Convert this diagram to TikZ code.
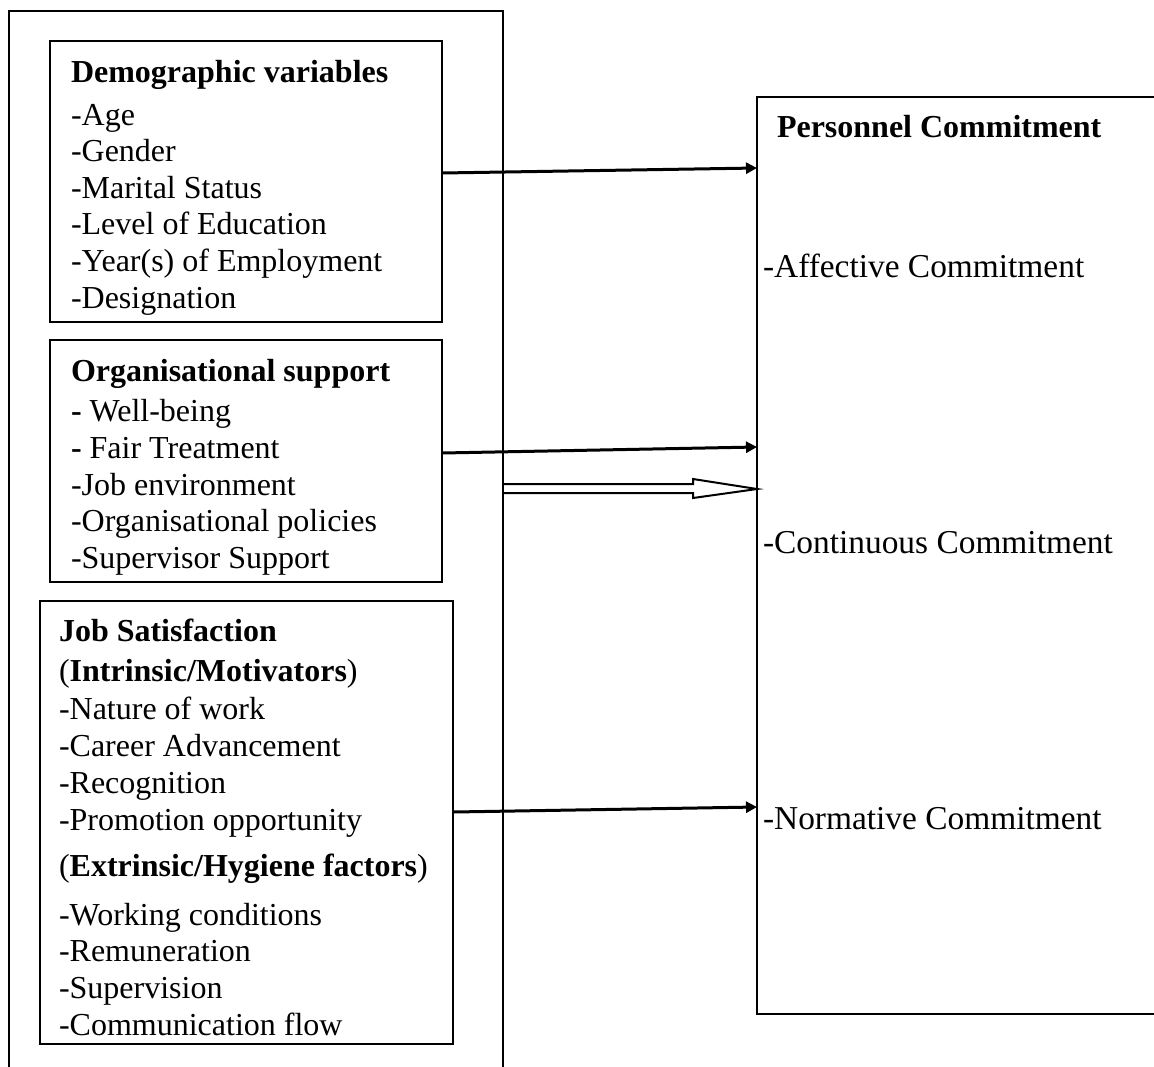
\documentclass[tikz,border=0pt]{standalone}
\usepackage{fontspec}
\setmainfont{Liberation Serif}
\usetikzlibrary{arrows.meta,calc}
\newcommand\figfs{\fontsize{16pt}{18.35pt}\selectfont}
\newcommand\figfsr{\fontsize{16.7pt}{19pt}\selectfont}
\begin{document}
\begin{tikzpicture}[x=0.5pt,y=-0.5pt,
  box/.style={draw,line width=1pt,inner sep=0pt,outer sep=0pt,anchor=north west},
  txt/.style={inner sep=0pt,outer sep=0pt,anchor=base west,font=\figfs},
  rtxt/.style={inner sep=0pt,outer sep=0pt,anchor=base west,font=\figfsr},
  hd/.style={inner sep=0pt,outer sep=0pt,anchor=base west,font=\figfs\bfseries},
  arr/.style={line width=1.5pt,-{Triangle[length=5.5pt,width=5.5pt]}},
  hollow/.style={line width=1pt,line join=miter}]
\useasboundingbox (0,0) rectangle (1154,1066);
\fill[white] (0,0) rectangle (1154,1066);

% boxes
\node[box,minimum width=247pt,minimum height=534.5pt] (outer) at (9,11) {};
\node[box,minimum width=196pt,minimum height=140.5pt] (demo) at (50,41) {};
\node[box,minimum width=196pt,minimum height=121pt] (org) at (50,340) {};
\node[box,minimum width=206.5pt,minimum height=221.5pt] (job) at (40,601) {};
\node[box,minimum width=202pt,minimum height=458.5pt] (pc) at (757,97) {};

% demographic
\node[hd] (dT) at (71,82) {Demographic variables};
\foreach \t [count=\i] in {-Age,-Gender,-Marital Status,-Level of Education,-Year(s) of Employment,-Designation}
  \node[txt] (d\i) at (71,{125+(\i-1)*36.6}) {\t};

% organisational
\node[hd] (oT) at (71,381.7) {Organisational support};
\node[txt] (o1) at (71,421.7) {\textbf{-} Well-being};
\node[txt] (o2) at (71,458.3) {\textbf{-} Fair Treatment};
\node[txt] (o3) at (71,495) {-Job environment};
\node[txt] (o4) at (71,531.7) {-Organisational policies};
\node[txt] (o5) at (71,568.3) {-Supervisor Support};

% job satisfaction
\node[hd] (jT) at (59,641.7) {Job Satisfaction};
\node[txt] (jI) at (59,681.7) {(\textbf{Intrinsic/Motivators})};
\foreach \t [count=\i] in {-Nature of work,-Career Advancement,-Recognition,-Promotion opportunity}
  \node[txt] (ja\i) at (59,{719.3+(\i-1)*37.1}) {\t};
\node[txt] (jE) at (59,876.7) {(\textbf{Extrinsic/Hygiene factors})};
\foreach \t [count=\i] in {-Working conditions,-Remuneration,-Supervision,-Communication flow}
  \node[txt] (jb\i) at (59,{925+(\i-1)*36.7}) {\t};

% personnel commitment
\node[hd] (pT) at (777,137.7) {Personnel Commitment};
\node[rtxt] (p1) at (763,277) {-Affective Commitment};
\node[rtxt] (p2) at (763,553) {-Continuous Commitment};
\node[rtxt] (p3) at (763,829) {-Normative Commitment};

% arrows
\draw[arr] (demo.east |- 0,173) -- (pc.west |- 0,168);
\draw[arr] (org.east |- 0,453) -- (pc.west |- 0,447);
\draw[arr] (job.east |- 0,812) -- (pc.west |- 0,807);
\draw[hollow] (outer.east |- 0,484) -- (693,484) -- (693,479) -- (pc.west |- 0,489)
  -- (693,498) -- (693,493) -- (outer.east |- 0,493);
\end{tikzpicture}
\end{document}
